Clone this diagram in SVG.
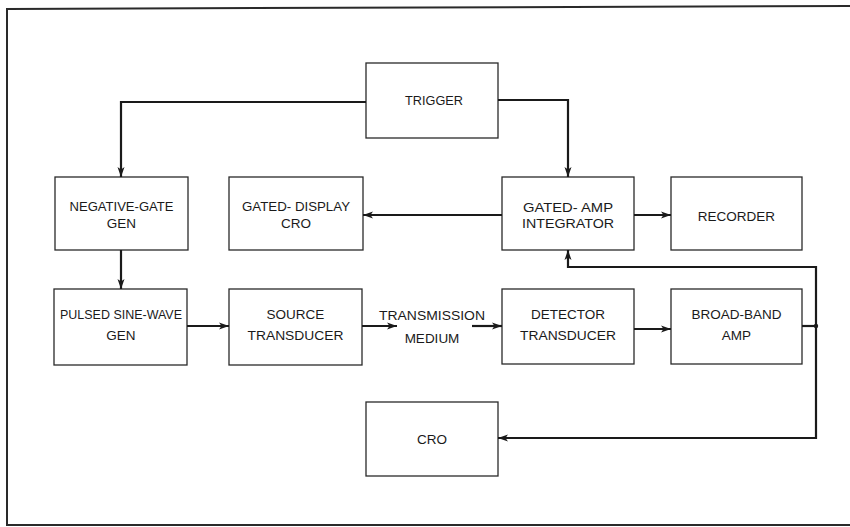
<svg xmlns="http://www.w3.org/2000/svg" width="850" height="527" viewBox="0 0 850 527">
<defs>
<marker id="ah" markerUnits="userSpaceOnUse" markerWidth="12" markerHeight="10" refX="10" refY="5" orient="auto">
<path d="M0,1.5 L10,5 L0,8.5 L2.5,5 Z" fill="#1a1a1a"/>
</marker>
<style>
.box{fill:#fff;stroke:#2a2a2a;stroke-width:1.3}
.lbl{font-family:"Liberation Sans",Arial,sans-serif;font-size:13.5px;fill:#1a1a1a;text-anchor:middle}
.con{fill:none;stroke:#1a1a1a;stroke-width:2.2}
.frame{fill:none;stroke:#2a2a2a;stroke-width:2}
</style>
</defs>
<rect width="850" height="527" fill="#fff"/>
<path class="frame" d="M853 6 L7 9 L7 525 L853 525"/>

<g id="trigger"><rect class="box" x="366" y="63" width="132" height="75"/><text class="lbl" x="434" y="105" textLength="58" lengthAdjust="spacingAndGlyphs">TRIGGER</text></g>
<g id="negative-gate-gen"><rect class="box" x="55" y="177" width="133" height="73"/><text class="lbl" x="121.5" y="211" textLength="104" lengthAdjust="spacingAndGlyphs">NEGATIVE-GATE</text><text class="lbl" x="121.5" y="228">GEN</text></g>
<g id="gated-display-cro"><rect class="box" x="229" y="177" width="134" height="73"/><text class="lbl" x="296" y="211" textLength="108" lengthAdjust="spacingAndGlyphs">GATED- DISPLAY</text><text class="lbl" x="296" y="228">CRO</text></g>
<g id="gated-amp-integrator"><rect class="box" x="502" y="177" width="132" height="73"/><text class="lbl" x="568" y="212" textLength="90" lengthAdjust="spacingAndGlyphs">GATED- AMP</text><text class="lbl" x="568" y="228" textLength="92" lengthAdjust="spacingAndGlyphs">INTEGRATOR</text></g>
<g id="recorder"><rect class="box" x="671" y="177" width="131" height="73"/><text class="lbl" x="736.5" y="221">RECORDER</text></g>
<g id="pulsed-sine-wave-gen"><rect class="box" x="54" y="289" width="133" height="76"/><text class="lbl" x="121" y="319" textLength="122" lengthAdjust="spacingAndGlyphs">PULSED SINE-WAVE</text><text class="lbl" x="121" y="340">GEN</text></g>
<g id="source-transducer"><rect class="box" x="229" y="289" width="133" height="76"/><text class="lbl" x="295.5" y="319">SOURCE</text><text class="lbl" x="295.5" y="340" textLength="96" lengthAdjust="spacingAndGlyphs">TRANSDUCER</text></g>
<g id="transmission-medium"><text class="lbl" x="432" y="320" textLength="106" lengthAdjust="spacingAndGlyphs">TRANSMISSION</text><text class="lbl" x="432" y="343">MEDIUM</text></g>
<g id="detector-transducer"><rect class="box" x="502" y="289" width="132" height="75"/><text class="lbl" x="568" y="319">DETECTOR</text><text class="lbl" x="568" y="340" textLength="96" lengthAdjust="spacingAndGlyphs">TRANSDUCER</text></g>
<g id="broad-band-amp"><rect class="box" x="671" y="289" width="131" height="75"/><text class="lbl" x="736.5" y="319">BROAD-BAND</text><text class="lbl" x="736.5" y="340">AMP</text></g>
<g id="cro"><rect class="box" x="366" y="402" width="132" height="74"/><text class="lbl" x="432" y="444">CRO</text></g>

<g id="connectors">
<path class="con" d="M366 102 H121 V177" marker-end="url(#ah)"/>
<path class="con" d="M498 100 H568 V177" marker-end="url(#ah)"/>
<path class="con" d="M502 215 H363" marker-end="url(#ah)"/>
<path class="con" d="M634 215 H671" marker-end="url(#ah)"/>
<path class="con" d="M121 250 V289" marker-end="url(#ah)"/>
<path class="con" d="M187 326 H229" marker-end="url(#ah)"/>
<path class="con" d="M362 326 H397" marker-end="url(#ah)"/>
<path class="con" d="M472 326 H502" marker-end="url(#ah)"/>
<path class="con" d="M634 329 H671" marker-end="url(#ah)"/>
<path class="con" d="M802 326 H816"/>
<path class="con" d="M816 326 V267 H568 V250" marker-end="url(#ah)"/>
<path class="con" d="M816 326 V438 H498" marker-end="url(#ah)"/>
<circle cx="816" cy="326" r="2.2" fill="#1a1a1a"/>
</g>
</svg>
